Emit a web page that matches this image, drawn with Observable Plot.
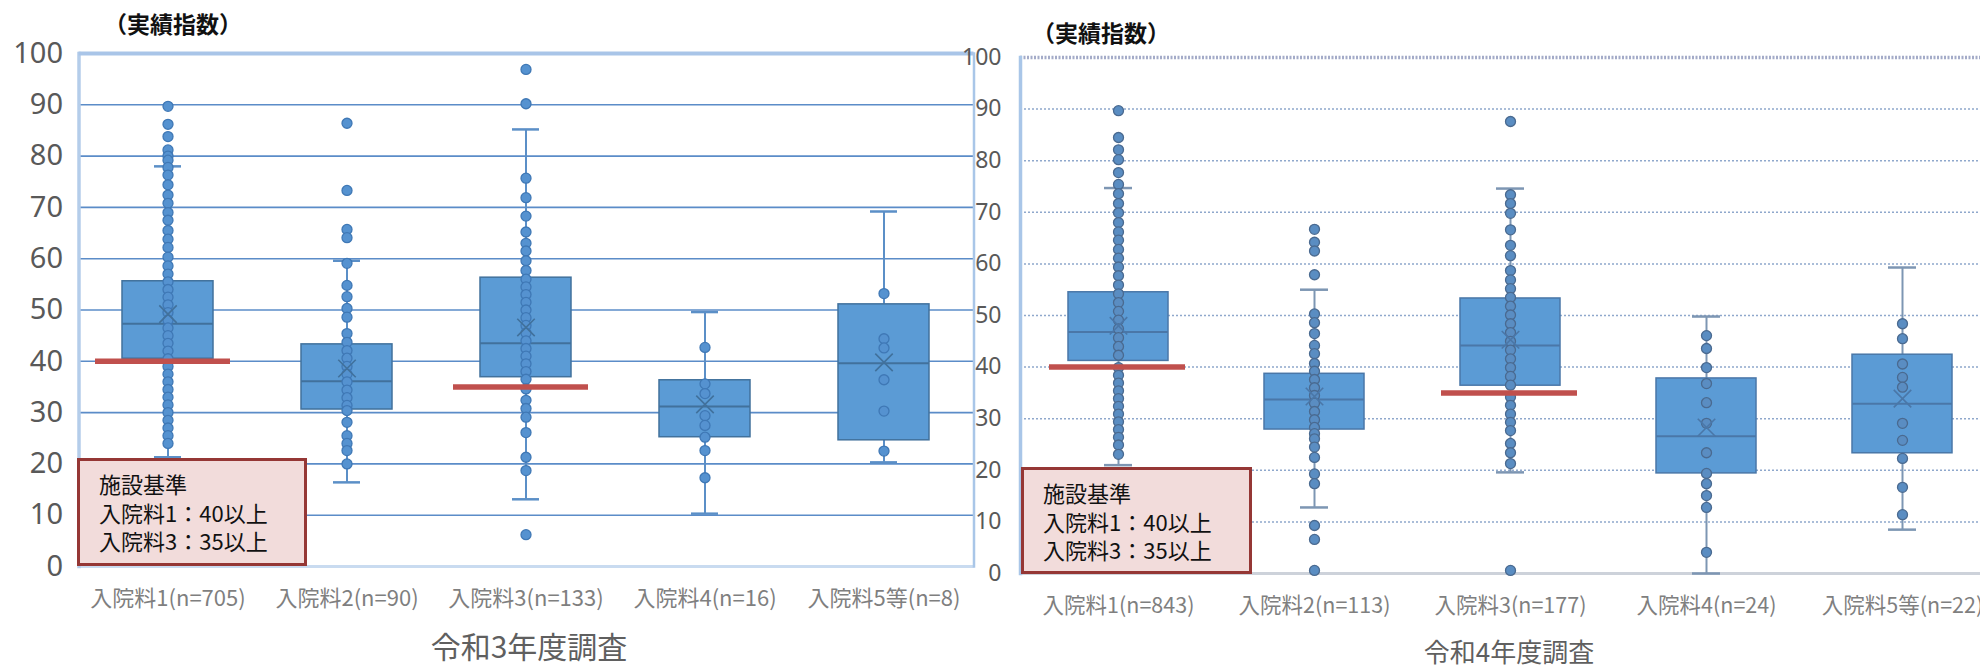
<!DOCTYPE html>
<html>
<head>
<meta charset="utf-8">
<script src="https://cdn.jsdelivr.net/npm/d3@7"></script>
<script src="https://cdn.jsdelivr.net/npm/@observablehq/plot@0.6"></script>
<style>
  html, body { margin: 0; padding: 0; }
  body { width: 1980px; height: 668px; overflow: hidden; background: #fff; position: relative;
         font-family: "Noto Sans CJK JP", "Noto Sans", sans-serif; }
  .abs { position: absolute; }
  .unit { position: absolute; font-size: 23px; font-weight: 700; color: #111; line-height: 1; transform: translate(0, -50%); white-space: nowrap; }
  .title { position: absolute; color: #5f5f5f; line-height: 1; transform: translate(-50%, -50%); white-space: nowrap; }
  .note { position: absolute; box-sizing: border-box; background: #F2DCDB; border: 3px solid #953735;
          font-size: 22px; line-height: 28.5px; color: #111; padding: 8px 0 0 19px; white-space: nowrap; }
</style>
</head>
<body>
<div id="left" class="abs" style="left:0;top:0;width:990px;height:668px"></div>
<div id="right" class="abs" style="left:960px;top:0;width:1040px;height:668px"></div>

<div class="unit" style="left:104px;top:23px">（実績指数）</div>
<div class="unit" style="left:1032px;top:32px">（実績指数）</div>

<div class="note" style="left:77px;top:458px;width:230px;height:108px">施設基準<br>入院料1：40以上<br>入院料3：35以上</div>
<div class="note" style="left:1021px;top:467px;width:231px;height:107px">施設基準<br>入院料1：40以上<br>入院料3：35以上</div>

<div class="title" style="left:529px;top:645px;font-size:30px">令和3年度調査</div>
<div class="title" style="left:1509px;top:651px;font-size:26px">令和4年度調査</div>

<script>
// ---------- shared ticks ----------
const yTicks = [0, 10, 20, 30, 40, 50, 60, 70, 80, 90, 100];
const gridTicks = [10, 20, 30, 40, 50, 60, 70, 80, 90];

// ---------- 令和3年度調査 ----------
const r3Categories = ["入院料1(n=705)", "入院料2(n=90)", "入院料3(n=133)", "入院料4(n=16)", "入院料5等(n=8)"];
const r3Q1 = [40.5, 30.6, 36.9, 25.2, 24.6];
const r3Q3 = [55.6, 43.3, 56.3, 36.3, 51.1];
const r3Median = [47.3, 36.1, 43.5, 31.2, 39.6];
const r3Mean = [49.2, 38.6, 46.6, 31.6, 39.8];
const r3Low = [21.3, 16.4, 13.1, 10.3, 20.3];
const r3High = [78.0, 59.6, 85.2, 49.6, 69.2];
const r3Points = [
  [89.7, 86.2, 83.8, 81.2, 80.0, 79.2, 77.8, 76.3, 74.4, 72.4, 70.8, 69.0, 67.5, 65.5, 63.8, 62.2, 60.3, 58.6, 57.0, 55.5, 54.0, 52.5, 51.0, 49.5, 48.0, 46.5, 45.0, 43.5, 42.0, 40.5, 39.0, 37.5, 36.0, 34.5, 33.0, 31.5, 30.0, 28.5, 27.0, 25.5, 24.0, 19.7, 1.2],
  [86.4, 73.3, 65.7, 64.1, 59.1, 54.8, 52.6, 50.3, 48.6, 45.4, 43.7, 42.1, 40.6, 39.0, 37.5, 36.0, 34.4, 32.9, 31.4, 30.4, 28.1, 25.5, 24.0, 22.6, 20.0],
  [96.9, 90.2, 75.7, 71.9, 68.3, 65.2, 63.0, 61.5, 59.6, 57.7, 56.0, 54.5, 53.0, 51.5, 50.0, 48.5, 47.0, 45.5, 44.0, 42.5, 41.0, 39.5, 38.0, 36.5, 34.6, 32.4, 30.8, 29.1, 26.1, 21.3, 18.7, 6.2],
  [42.7, 35.6, 33.7, 29.4, 27.5, 25.2, 22.6, 17.3],
  [53.2, 44.4, 42.6, 36.4, 30.3, 22.5]
];
const r3ThresholdCats = ["入院料1(n=705)", "入院料3(n=133)"];
const r3ThresholdValues = [40, 35];

// ---------- 令和4年度調査 ----------
const r4Categories = ["入院料1(n=843)", "入院料2(n=113)", "入院料3(n=177)", "入院料4(n=24)", "入院料5等(n=22)"];
const r4Q1 = [41.2, 27.9, 36.4, 19.4, 23.3];
const r4Q3 = [54.5, 38.7, 53.3, 37.8, 42.4];
const r4Median = [46.8, 33.7, 44.2, 26.6, 32.9];
const r4Mean = [48.0, 34.3, 45.3, 28.3, 33.9];
const r4Low = [21.0, 12.8, 19.6, 0, 8.5];
const r4High = [74.7, 55.0, 74.6, 49.8, 59.3];
const r4Points = [
  [89.7, 84.5, 82.1, 80.2, 77.7, 75.4, 73.6, 71.7, 69.9, 68.0, 66.2, 64.6, 62.8, 61.1, 59.4, 57.7, 55.9, 54.2, 52.5, 50.8, 49.1, 47.4, 45.7, 44.0, 42.3, 39.9, 38.4, 36.9, 35.4, 33.9, 32.4, 30.9, 29.4, 27.9, 26.4, 24.9, 23.1, 19.4, 1.2],
  [66.7, 64.2, 62.5, 57.9, 50.3, 48.6, 46.5, 44.2, 42.6, 40.7, 39.2, 37.6, 36.0, 34.5, 33.0, 31.4, 29.8, 28.3, 27.1, 26.1, 24.5, 22.5, 19.3, 17.4, 9.3, 6.6, 0.6],
  [87.6, 73.4, 71.7, 69.8, 66.6, 63.6, 61.6, 58.7, 56.9, 55.2, 53.5, 51.8, 50.1, 48.4, 46.7, 45.0, 43.3, 41.6, 39.9, 38.2, 36.5, 34.2, 32.6, 30.9, 29.3, 27.7, 25.2, 23.4, 21.3, 0.6],
  [46.1, 43.6, 39.9, 36.8, 33.1, 29.1, 23.4, 19.4, 17.4, 15.1, 12.8, 4.1],
  [48.4, 45.5, 40.6, 38.0, 36.1, 29.1, 25.8, 22.3, 16.7, 11.4]
];
const r4ThresholdCats = ["入院料1(n=843)", "入院料3(n=177)"];
const r4ThresholdValues = [40, 35];

// ---------- helpers ----------
function buildTables(cats, q1, q3, median, mean, low, high, points, thrCats, thrValues) {
  const boxes = cats.map((c, i) => ({cat: c, q1: q1[i], q3: q3[i], median: median[i], mean: mean[i], low: low[i], high: high[i]}));
  const dots = points.flatMap((arr, i) => arr.map(v => ({cat: cats[i], value: v})));
  const thr = thrCats.map((c, i) => ({cat: c, value: thrValues[i]}));
  return {boxes, dots, thr};
}

function boxMarks(t, s) {
  return [
    Plot.ruleX(t.boxes, {x: "cat", y1: "low", y2: "q1", stroke: s.whisker, strokeWidth: 2}),
    Plot.ruleX(t.boxes, {x: "cat", y1: "q3", y2: "high", stroke: s.whisker, strokeWidth: 2}),
    Plot.tickY(t.boxes, {x: "cat", y: "low", stroke: s.whisker, strokeWidth: 2.5, insetLeft: s.capInset, insetRight: s.capInset}),
    Plot.tickY(t.boxes, {x: "cat", y: "high", stroke: s.whisker, strokeWidth: 2.5, insetLeft: s.capInset, insetRight: s.capInset}),
    Plot.barY(t.boxes, {x: "cat", y1: "q1", y2: "q3", fill: "#5B9BD5", stroke: s.boxStroke, strokeWidth: 1.5}),
    Plot.tickY(t.boxes, {x: "cat", y: "median", stroke: s.boxStroke, strokeWidth: 2}),
    Plot.dot(t.dots, {x: "cat", y: "value", r: 5, fill: s.dotFill, stroke: s.dotStroke, strokeWidth: 1.3}),
    Plot.dot(t.boxes, {x: "cat", y: "mean", symbol: "times", r: 8, stroke: s.boxStroke, strokeWidth: 1.6}),
    Plot.tickY(t.thr, {x: "cat", y: "value", stroke: "#C0504D", strokeWidth: 5.5, insetLeft: s.redL, insetRight: s.redR})
  ];
}

// ---------- left panel ----------
const t3 = buildTables(r3Categories, r3Q1, r3Q3, r3Median, r3Mean, r3Low, r3High, r3Points, r3ThresholdCats, r3ThresholdValues);
const left = Plot.plot({
  width: 990, height: 668,
  marginLeft: 78.5, marginRight: 16.5, marginTop: 53, marginBottom: 102,
  style: {background: "transparent", overflow: "visible"},
  x: {type: "band", domain: r3Categories, paddingInner: 0.49, paddingOuter: 0.245, label: null},
  y: {domain: [0, 100], label: null},
  marks: [
    Plot.ruleY(gridTicks, {stroke: "#5B8CC8", strokeWidth: 1.6}),
    Plot.ruleY([0], {stroke: "#C9DBF0", strokeWidth: 3}),
    Plot.frame({anchor: "right", stroke: "#A9C6E8", strokeWidth: 2.5}),
    Plot.frame({anchor: "left", stroke: "#B4CDEA", strokeWidth: 3.5}),
    Plot.ruleY([100], {stroke: "#A9C5E8", strokeWidth: 4}),
    ...boxMarks(t3, {whisker: "#5B8FC7", boxStroke: "#41719C", capInset: 32, dotFill: "#5592D0", dotStroke: "#3F78B5", redL: -27, redR: -17}),
    Plot.axisY({ticks: yTicks, tickSize: 0, tickPadding: 16, fontSize: 29, fontFamily: "'Noto Sans', sans-serif", fill: "#595959", label: null}),
    Plot.axisX({tickSize: 0, tickPadding: 24, fontSize: 22, fontFamily: "'Noto Sans CJK JP', sans-serif", fill: "#7f7f7f", label: null})
  ]
});
document.getElementById("left").appendChild(left);

// ---------- right panel ----------
const t4 = buildTables(r4Categories, r4Q1, r4Q3, r4Median, r4Mean, r4Low, r4High, r4Points, r4ThresholdCats, r4ThresholdValues);
const right = Plot.plot({
  width: 1040, height: 668,
  marginLeft: 60, marginRight: 0, marginTop: 57, marginBottom: 95,
  style: {background: "transparent", overflow: "visible"},
  x: {type: "band", domain: r4Categories, paddingInner: 0.49, paddingOuter: 0.245, label: null},
  y: {domain: [0, 100], label: null},
  marks: [
    Plot.ruleY(gridTicks, {stroke: "#8FA8CC", strokeWidth: 1.5, strokeDasharray: "2,2"}),
    Plot.ruleY([100], {stroke: "#A4ABC8", strokeWidth: 3.5, strokeDasharray: "2,1.5"}),
    Plot.ruleY([0], {stroke: "#CDD2DA", strokeWidth: 3}),
    Plot.frame({anchor: "left", stroke: "#A9C6E8", strokeWidth: 3.5}),
    ...boxMarks(t4, {whisker: "#7D96B3", boxStroke: "#4A77A8", capInset: 36, dotFill: "#5A8DC2", dotStroke: "#4A6A90", redL: -19, redR: -17}),
    Plot.axisY({ticks: yTicks, tickSize: 0, tickPadding: 19, fontSize: 23, fontFamily: "'Noto Sans', sans-serif", fill: "#595959", label: null}),
    Plot.axisX({tickSize: 0, tickPadding: 24, fontSize: 21.5, fontFamily: "'Noto Sans CJK JP', sans-serif", fill: "#7f7f7f", label: null})
  ]
});
document.getElementById("right").appendChild(right);
</script>
</body>
</html>
